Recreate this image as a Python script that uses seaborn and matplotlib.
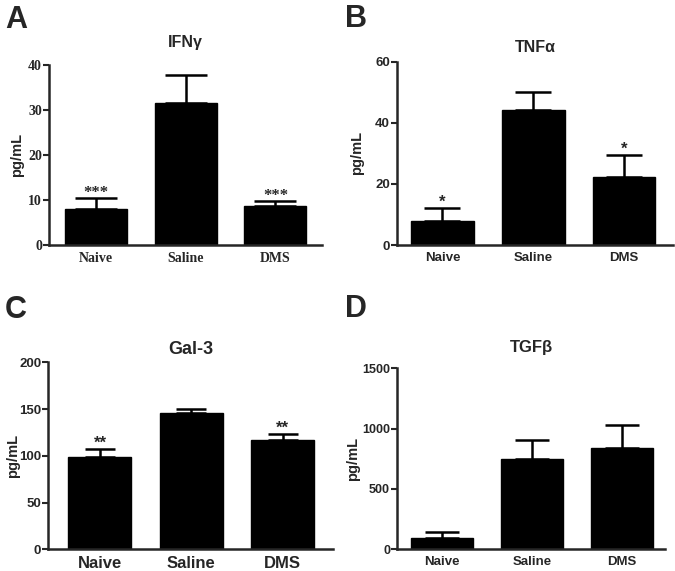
import numpy as np
import pandas as pd
import matplotlib
matplotlib.use('Agg')
import matplotlib.pyplot as plt
import seaborn as sns

# data (mean and upper error)
groups = ['Naive', 'Saline', 'DMS']

ifng_mean = [8.1, 31.6, 8.7]
ifng_err = [2.3, 6.1, 1.1]
tnfa_mean = [7.9, 44.2, 22.2]
tnfa_err = [4.1, 6.0, 7.3]
gal3_mean = [98.4, 145.5, 116.6]
gal3_err = [8.6, 4.5, 6.8]
tgfb_mean = [94, 750, 836]
tgfb_err = [47, 155, 194]

ifng_sig = ['***', '', '***']
tnfa_sig = ['*', '', '*']
gal3_sig = ['**', '', '**']
tgfb_sig = ['', '', '']

sns.set_style('ticks')
plt.rcParams['font.family'] = ['Liberation Sans', 'DejaVu Sans']

SANS = 'Liberation Sans'
SERIF = 'Liberation Serif'

panels = [
    dict(letter='A', title='IFNγ', mean=ifng_mean, err=ifng_err, sig=ifng_sig,
         ylim=(0, 40), yticks=[0, 10, 20, 30, 40],
         rect=[49 / 675, 1 - 245 / 571, (322 - 49) / 675, 180 / 571],
         xlim=(-0.525, 2.52), tfont=SERIF, tsize=10, xsize=10, titlesize=11.5, pad=13, cap=15,
         ylab_x=-0.092, letterpos=(5 / 675, 1 - 28 / 571)),
    dict(letter='B', title='TNFα', mean=tnfa_mean, err=tnfa_err, sig=tnfa_sig,
         ylim=(0, 60), yticks=[0, 20, 40, 60],
         rect=[397 / 675, 1 - 245 / 571, (673 - 397) / 675, (245 - 61.7) / 571],
         xlim=(-0.5, 2.54), tfont=SANS, tsize=9.5, xsize=9.5, titlesize=11.5, pad=7, cap=13,
         ylab_x=-0.12, letterpos=(345 / 675, 1 - 27 / 571)),
    dict(letter='C', title='Gal-3', mean=gal3_mean, err=gal3_err, sig=gal3_sig,
         ylim=(0, 200), yticks=[0, 50, 100, 150, 200],
         rect=[48.3 / 675, 1 - 549.3 / 571, (333 - 48.3) / 675, (549.3 - 362.3) / 571],
         xlim=(-0.565, 2.55), tfont=SANS, tsize=9.5, xsize=12, titlesize=13, pad=6, cap=11,
         ylab_x=-0.1, letterpos=(5 / 675, 1 - 318 / 571)),
    dict(letter='D', title='TGFβ', mean=tgfb_mean, err=tgfb_err, sig=tgfb_sig,
         ylim=(0, 1500), yticks=[0, 500, 1000, 1500],
         rect=[397 / 675, 1 - 549 / 571, (665 - 397) / 675, (549 - 368.3) / 571],
         xlim=(-0.5, 2.48), tfont=SANS, tsize=9, xsize=9.5, titlesize=12, pad=12, cap=12,
         ylab_x=-0.138, letterpos=(345 / 675, 1 - 317 / 571)),
]

fig = plt.figure(figsize=(6.75, 5.71), dpi=100)

for p in panels:
    ax = fig.add_axes(p['rect'])
    df = pd.DataFrame({'group': groups, 'value': p['mean']})
    sns.barplot(data=df, x='group', y='value', color='black', edgecolor='black',
                saturation=1, width=0.69, errorbar=None, ax=ax)
    xs = np.arange(len(groups))
    # upper error bars only
    ax.errorbar(xs, p['mean'], yerr=[np.zeros(len(groups)), p['err']], fmt='none',
                ecolor='black', elinewidth=1.8, capsize=p['cap'], capthick=1.8)
    for x, m, e, s in zip(xs, p['mean'], p['err'], p['sig']):
        if s:
            ax.annotate(s, (x, m + e), xytext=(0, 1), textcoords='offset points',
                        ha='center', va='baseline', fontsize=12, fontweight='bold',
                        family=p['tfont'])

    ax.set_ylim(*p['ylim'])
    ax.set_xlim(*p['xlim'])
    ax.set_yticks(p['yticks'])
    ax.set_xlabel('')
    ax.set_ylabel('pg/mL', fontsize=10.5, fontweight='bold', family=SANS)
    ax.yaxis.set_label_coords(p['ylab_x'], 0.5)
    ax.set_title(p['title'], fontsize=p['titlesize'], fontweight='bold', family=SANS, pad=p['pad'])
    sns.despine(ax=ax)
    for sp in ['left', 'bottom']:
        ax.spines[sp].set_linewidth(1.8)
    ax.tick_params(axis='y', length=4, width=1.5, pad=1)
    ax.tick_params(axis='x', length=0, pad=5)
    for lab in ax.get_yticklabels():
        lab.set_fontsize(p['tsize'])
        lab.set_fontweight('bold')
        lab.set_family(p['tfont'])
    for lab in ax.get_xticklabels():
        lab.set_fontsize(p['xsize'])
        lab.set_fontweight('bold')
        lab.set_family(p['tfont'])

    fig.text(p['letterpos'][0], p['letterpos'][1], p['letter'], fontsize=22,
             fontweight='bold', family=SANS, ha='left', va='baseline')

fig.savefig('out.png', dpi=100)
